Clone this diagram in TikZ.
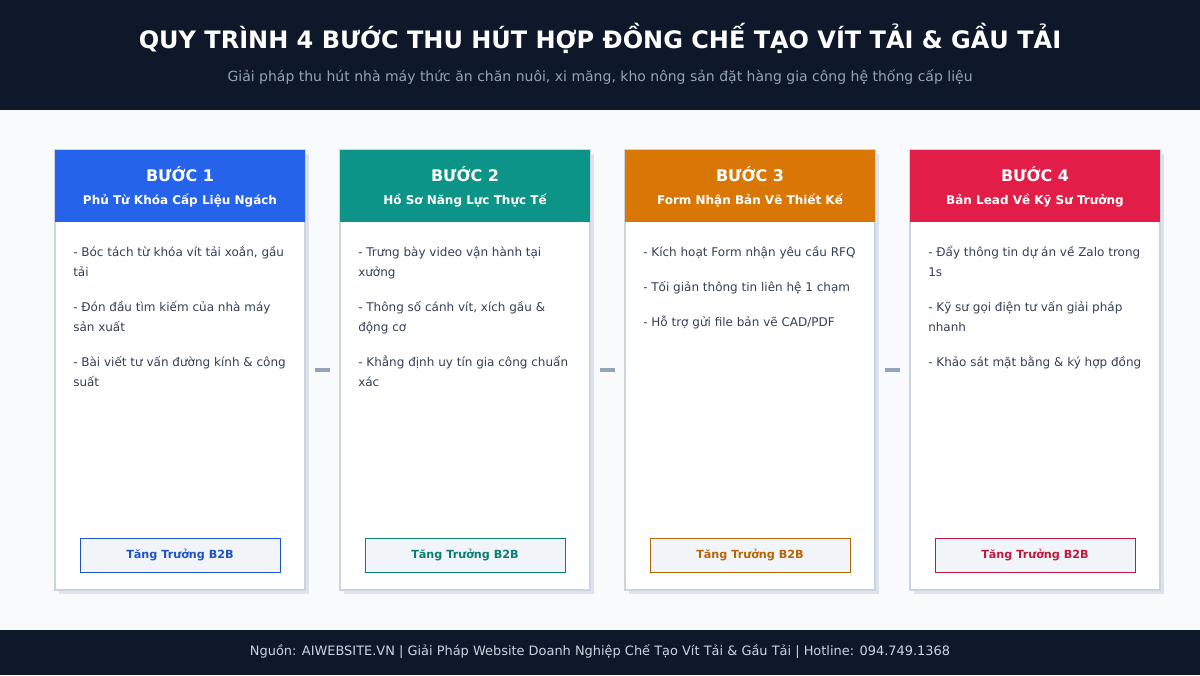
\documentclass[tikz,border=0pt]{standalone}
\usepackage{fontspec}
\setmainfont{DejaVu Sans}
\definecolor{navy}{HTML}{0F172A}
\definecolor{bgc}{HTML}{F8FAFC}
\definecolor{subc}{HTML}{94A3B8}
\definecolor{footc}{HTML}{CBD5E1}
\definecolor{cardline}{HTML}{CBD5E1}
\definecolor{shadowc}{HTML}{DCE3EC}
\definecolor{bodyc}{HTML}{334155}
\definecolor{btnfill}{HTML}{F1F5F9}
\definecolor{connc}{HTML}{94A3B8}
\definecolor{cblue}{HTML}{2563EB}
\definecolor{cteal}{HTML}{0D9488}
\definecolor{corange}{HTML}{D97706}
\definecolor{cred}{HTML}{E11D48}
\tikzset{
  titlestyle/.style={text=white,font=\bfseries\fontsize{18}{22}\selectfont,inner sep=0pt},
  substyle/.style={text=subc,font=\fontsize{10.5}{12}\selectfont,inner sep=0pt},
  footstyle/.style={text=footc,font=\fontsize{9.7}{11}\selectfont,inner sep=0pt},
  cardbox/.style={draw=cardline,line width=1.5pt,fill=white,minimum width=187.5pt,minimum height=330pt,inner sep=0pt},
  shadowbox/.style={fill=shadowc,minimum width=187.5pt,minimum height=330pt,inner sep=0pt},
  headbox/.style={fill=#1,minimum width=187.5pt,minimum height=54pt,inner sep=0pt},
  steptitle/.style={text=white,font=\bfseries\fontsize{12}{14}\selectfont,inner sep=0pt},
  stepsub/.style={text=white,font=\bfseries\fontsize{9}{11}\selectfont,inner sep=0pt},
  bullet/.style={text=bodyc,font=\fontsize{9}{11}\selectfont,inner sep=0pt,anchor=base west},
  btn/.style={draw=#1!85!black,line width=0.6pt,fill=btnfill,text=#1!85!black,font=\bfseries\fontsize{8.4}{10}\selectfont,minimum width=150pt,minimum height=25.5pt,inner sep=0pt},
  conn/.style={draw=connc,line width=2.5pt}
}
\newcommand{\bl}[4]{\node[bullet] (#3) at (#1,#2+4.5) {#4};}
\newcommand{\mycard}[4]{%
  \node[shadowbox] (s#1) at (#2+129,374) {};
  \node[cardbox] (c#1) at (#2+125,370) {};
  \node[headbox=#3,anchor=north] (h#1) at (#2+125,150) {};
  \node[steptitle] (t#1) at (#2+125,174) {BƯỚC #1};
  \node[stepsub] (u#1) at (#2+125,201) {#4};
  \node[btn=#3] (b#1) at (#2+125,555) {Tăng Trưởng B2B};
}
\begin{document}
\begin{tikzpicture}[x=0.75pt,y=-0.75pt]
\useasboundingbox (0,0) rectangle (1200,675);
\fill[navy] (0,0) rectangle (1200,110);
\fill[bgc] (0,110) rectangle (1200,630);
\fill[navy] (0,630) rectangle (1200,675);
\node[titlestyle] (title) at (600,38) {QUY TRÌNH 4 BƯỚC THU HÚT HỢP ĐỒNG CHẾ TẠO VÍT TẢI \& GẦU TẢI};
\node[substyle] (subtitle) at (600,77) {Giải pháp thu hút nhà máy thức ăn chăn nuôi, xi măng, kho nông sản đặt hàng gia công hệ thống cấp liệu};
\node[footstyle] (footer) at (600,652) {Nguồn: AIWEBSITE.VN | Giải Pháp Website Doanh Nghiệp Chế Tạo Vít Tải \& Gầu Tải | Hotline: 094.749.1368};

\mycard{1}{55}{cblue}{Phủ Từ Khóa Cấp Liệu Ngách}
\mycard{2}{340}{cteal}{Hồ Sơ Năng Lực Thực Tế}
\mycard{3}{625}{corange}{Form Nhận Bản Vẽ Thiết Kế}
\mycard{4}{910}{cred}{Bản Lead Về Kỹ Sư Trưởng}

\bl{73}{252}{a1}{- Bóc tách từ khóa vít tải xoắn, gầu}
\bl{73}{272}{a2}{tải}
\bl{73}{307}{a3}{- Đón đầu tìm kiếm của nhà máy}
\bl{73}{327}{a4}{sản xuất}
\bl{73}{362}{a5}{- Bài viết tư vấn đường kính \& công}
\bl{73}{382}{a6}{suất}

\bl{358}{252}{d1}{- Trưng bày video vận hành tại}
\bl{358}{272}{d2}{xưởng}
\bl{358}{307}{d3}{- Thông số cánh vít, xích gầu \&}
\bl{358}{327}{d4}{động cơ}
\bl{358}{362}{d5}{- Khẳng định uy tín gia công chuẩn}
\bl{358}{382}{d6}{xác}

\bl{643}{252}{e1}{- Kích hoạt Form nhận yêu cầu RFQ}
\bl{643}{287}{e2}{- Tối giản thông tin liên hệ 1 chạm}
\bl{643}{322}{e3}{- Hỗ trợ gửi file bản vẽ CAD/PDF}

\bl{928}{252}{f1}{- Đẩy thông tin dự án về Zalo trong}
\bl{928}{272}{f2}{1s}
\bl{928}{307}{f3}{- Kỹ sư gọi điện tư vấn giải pháp}
\bl{928}{327}{f4}{nhanh}
\bl{928}{362}{f5}{- Khảo sát mặt bằng \& ký hợp đồng}

\draw[conn] ([xshift=6.75pt]c1.east) -- ([xshift=-6.75pt]c2.west);
\draw[conn] ([xshift=6.75pt]c2.east) -- ([xshift=-6.75pt]c3.west);
\draw[conn] ([xshift=6.75pt]c3.east) -- ([xshift=-6.75pt]c4.west);
\end{tikzpicture}
\end{document}
